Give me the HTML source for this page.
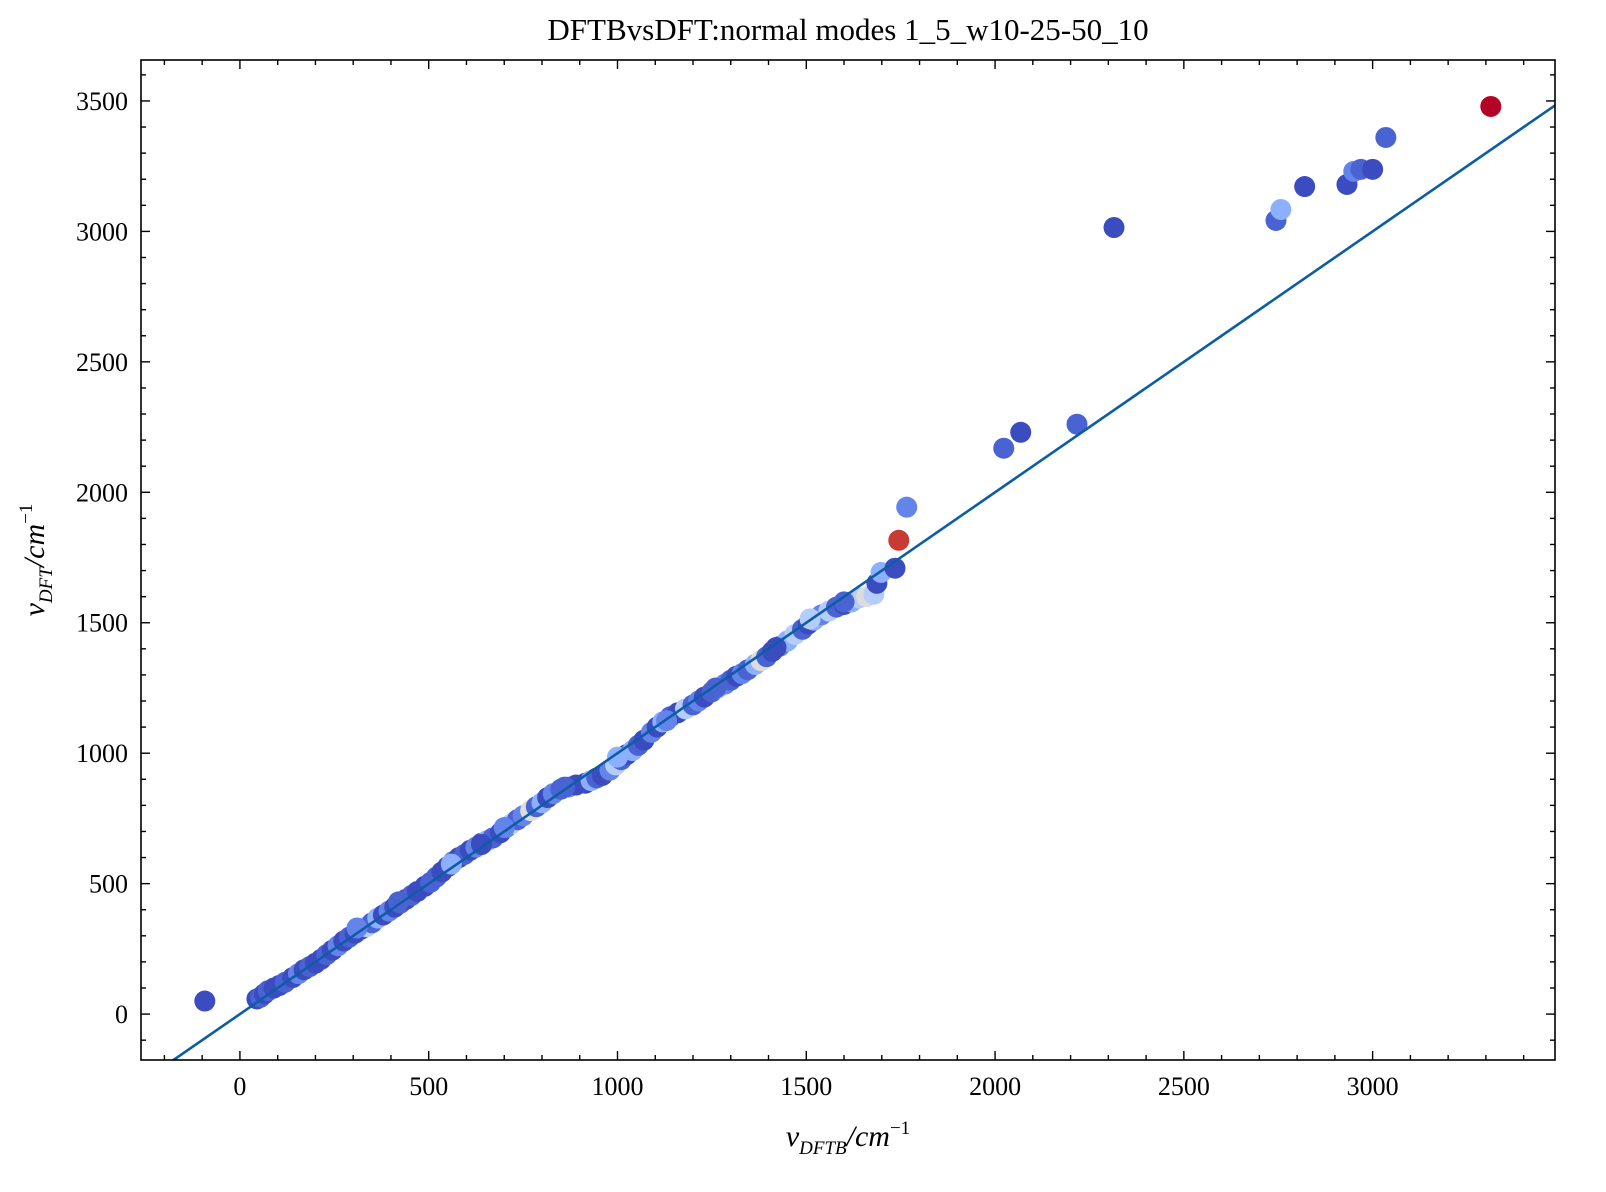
<!DOCTYPE html>
<html><head><meta charset="utf-8"><style>
body{margin:0;background:#fff;}
svg{display:block;font-family:"Liberation Serif",serif;}
</style></head><body>
<svg id="chart" width="1606" height="1192">
<rect x="0" y="0" width="1606" height="1192" fill="#fff"/>
<text x="848" y="40" font-size="31" text-anchor="middle">DFTBvsDFT:normal modes 1_5_w10-25-50_10</text>
<g id="marks"></g>
<g id="axes"></g>
<text x="848" y="1146" font-size="30" text-anchor="middle"><tspan font-style="italic">ν</tspan><tspan font-size="19" dy="8" font-style="italic">DFTB</tspan><tspan dy="-8" font-style="italic">/cm</tspan><tspan font-size="19" dy="-12">−1</tspan></text>
<text transform="translate(44,560) rotate(-90)" font-size="30" text-anchor="middle"><tspan font-style="italic">ν</tspan><tspan font-size="19" dy="8" font-style="italic">DFT</tspan><tspan dy="-8" font-style="italic">/cm</tspan><tspan font-size="19" dy="-12">−1</tspan></text>
</svg>
<script>
const xTicks=[0,500,1000,1500,2000,2500,3000];
const yTicks=[0,500,1000,1500,2000,2500,3000,3500];
const palette=["#3b4cc0","#4a63d3","#6384eb","#8db0fe","#b5cdfa","#dddcdc","#c83b34","#b40426"];
// [x, y, colorIndex]
const ptsX=[-93,45,55,65,75,90,105,120,140,155,170,185,200,215,230,245,260,275,290,305,320,335,350,365,380,395,410,425,440,455,470,490,505,520,535,550,565,580,595,610,625,640,655,670,690,705,720,735,750,770,785,800,815,830,850,870,890,915,930,945,960,980,995,1010,1025,1040,1055,1070,1090,1105,1120,1140,1160,1180,1200,1215,1230,1250,1265,1285,1300,1315,1330,1345,1365,1380,1395,1410,1430,1450,1470,1490,1505,1520,1540,1560,1580,1600,1620,1640,1660,1679,1687,1698,1735,1745,1766,2023,2068,2217,2315,2744,2757,2820,2932,2950,2969,3000,3035,3313,
310,420,560,640,700,860,1000,1130,1260,1420,1510,1600];
const ptsY=[50,58,65,78,90,100,110,122,140,155,170,182,195,210,228,245,262,280,295,310,325,335,350,368,380,395,410,425,440,455,470,490,505,525,545,565,585,600,612,628,640,655,665,675,695,715,730,745,760,780,795,810,830,845,862,870,878,885,895,905,915,935,955,975,995,1010,1030,1050,1080,1100,1120,1140,1155,1170,1185,1200,1215,1235,1250,1265,1280,1295,1305,1320,1340,1355,1370,1390,1410,1430,1455,1475,1495,1510,1530,1545,1560,1570,1580,1595,1600,1609,1651,1693,1709,1816,1943,2169,2230,2261,3015,3042,3084,3172,3180,3230,3238,3238,3360,3479,
330,430,575,650,715,870,985,1125,1250,1405,1515,1580];
const ptsC=[0,0,1,0,1,0,0,1,0,2,0,1,0,0,1,0,2,0,1,0,0,4,1,3,0,2,0,1,0,1,0,0,1,1,0,0,2,0,1,0,2,0,3,1,0,2,4,1,2,5,1,3,0,2,1,2,0,0,3,1,0,2,4,1,0,3,1,0,2,0,3,1,0,4,1,2,0,1,3,2,1,0,2,1,3,5,1,0,2,3,4,1,0,3,2,4,1,0,3,4,5,4,0,3,0,6,2,1,0,1,0,1,3,0,0,2,1,0,1,7,
2,1,3,0,2,1,3,2,1,0,4,1];
const L=141,R=1555,T=60,B=1060,xmin=-262,xmax=3483,ymin=-176,ymax=3657;
const sx=v=>L+(v-xmin)/(xmax-xmin)*(R-L);
const sy=v=>B-(v-ymin)/(ymax-ymin)*(B-T);
const NS="http://www.w3.org/2000/svg";
const mk=(t,a,p)=>{const e=document.createElementNS(NS,t);for(const k in a)e.setAttribute(k,a[k]);p.appendChild(e);return e;};
const marks=document.getElementById('marks'),axes=document.getElementById('axes');
const clip=mk('clipPath',{id:'pc'},marks);mk('rect',{x:L,y:T,width:R-L,height:B-T},clip);
const g=mk('g',{'clip-path':'url(#pc)'},marks);
for(let i=0;i<ptsX.length;i++){
 const c=mk('circle',{cx:sx(ptsX[i]),cy:sy(ptsY[i]),r:10.5,fill:palette[ptsC[i]]},g);
 
 
}
const ln=mk('line',{x1:sx(-300),y1:sy(-300),x2:sx(3600),y2:sy(3600),stroke:'#0c5da5','stroke-width':2.6},g);


const fr=mk('rect',{x:L,y:T,width:R-L,height:B-T,fill:'none',stroke:'#000','stroke-width':1.6},axes);


for(let v=-200;v<=3400;v+=100){const x=sx(v);const maj=v%500===0;const l=maj?9:5;
 mk('line',{x1:x,y1:B,x2:x,y2:B-l,stroke:'#000','stroke-width':1.4},axes);
 mk('line',{x1:x,y1:T,x2:x,y2:T+l,stroke:'#000','stroke-width':1.4},axes);}
for(let v=-100;v<=3600;v+=100){const y=sy(v);const maj=v%500===0;const l=maj?9:5;
 mk('line',{x1:L,y1:y,x2:L+l,y2:y,stroke:'#000','stroke-width':1.4},axes);
 mk('line',{x1:R,y1:y,x2:R-l,y2:y,stroke:'#000','stroke-width':1.4},axes);}
xTicks.forEach(v=>{const t=mk('text',{x:sx(v),y:1095,'font-size':26,'text-anchor':'middle'},axes);t.textContent=v;
 
 });
yTicks.forEach(v=>{const t=mk('text',{x:128,y:sy(v)+9,'font-size':26,'text-anchor':'end'},axes);t.textContent=v;
 
 });
</script>
</body></html>
